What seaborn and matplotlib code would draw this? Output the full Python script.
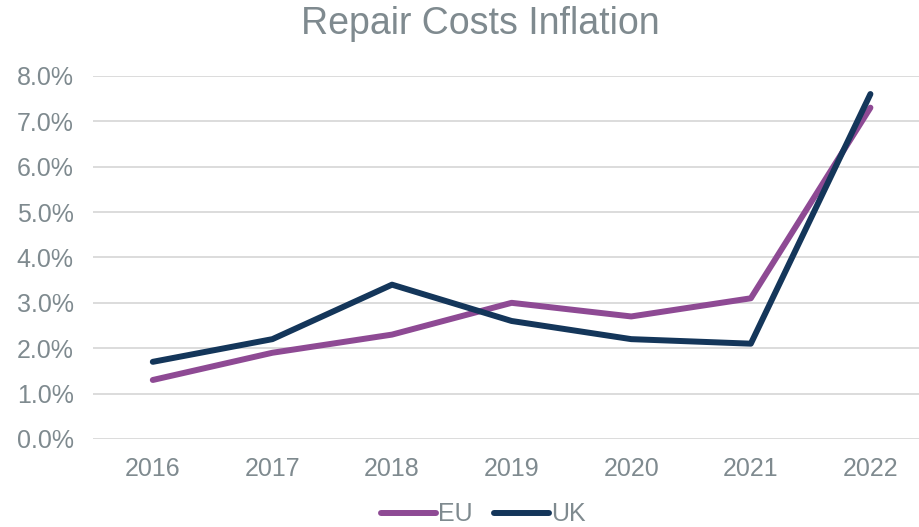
import pandas as pd
import matplotlib.pyplot as plt
import seaborn as sns
from matplotlib.ticker import PercentFormatter

years = ['2016', '2017', '2018', '2019', '2020', '2021', '2022']
eu = [1.3, 1.9, 2.3, 3.0, 2.7, 3.1, 7.3]
uk = [1.7, 2.2, 3.4, 2.6, 2.2, 2.1, 7.6]

df = pd.DataFrame({'Year': years * 2,
                   'Value': eu + uk,
                   'Series': ['EU'] * len(years) + ['UK'] * len(years)})

sns.set_theme(style='white')
plt.rcParams['font.family'] = ['Liberation Sans', 'DejaVu Sans']
grey = '#7f8a8f'

fig = plt.figure(figsize=(9.19, 5.27), dpi=100)
ax = fig.add_axes([0.1012, 0.167, 0.911, 0.689])

sns.lineplot(data=df, x='Year', y='Value', hue='Series',
             palette={'EU': '#8e4a94', 'UK': '#14365a'},
             linewidth=4.3, ax=ax, sort=False)
for line in ax.lines:
    line.set_solid_capstyle('round')

ax.set_xlim(-0.5, 6.5)
ax.set_ylim(0, 8)
ax.set_yticks(range(0, 9))
ax.yaxis.set_major_formatter(PercentFormatter(decimals=1))
ax.grid(axis='y', color='#d9d9d9', linewidth=1.3)
ax.set_axisbelow(True)
for s in ax.spines.values():
    s.set_visible(False)
ax.tick_params(axis='both', length=0, labelsize=18, labelcolor=grey)
ax.tick_params(axis='x', pad=13)
ax.tick_params(axis='y', pad=14)
ax.set_xlabel('')
ax.set_ylabel('')

fig.text(0.523, 0.955, 'Repair Costs Inflation', ha='center', va='center',
         fontsize=27, color=grey)

ax.legend(loc='center', bbox_to_anchor=(0.526, 0.024), bbox_transform=fig.transFigure,
          ncol=2, frameon=False, fontsize=18, labelcolor=grey,
          handlelength=2.2, handletextpad=0.1, columnspacing=0.85,
          borderpad=0.0)

plt.savefig('out.png', dpi=100)
